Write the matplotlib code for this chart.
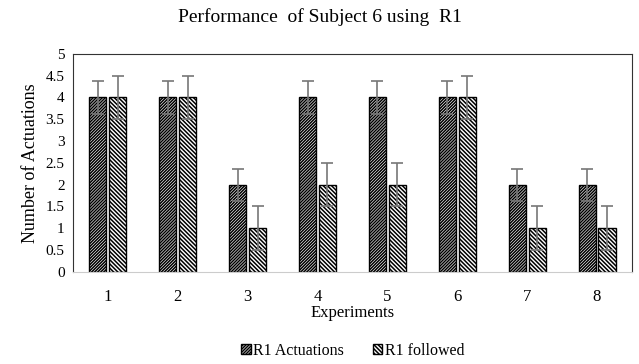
import numpy as np
import matplotlib.pyplot as plt

plt.rcParams['font.family'] = ['Liberation Serif', 'DejaVu Serif']
plt.rcParams['hatch.linewidth'] = 1.1

experiments = ['1', '2', '3', '4', '5', '6', '7', '8']
r1_actuations = [4, 4, 2, 4, 4, 4, 2, 2]
r1_followed = [4, 4, 1, 2, 2, 4, 1, 1]
err_actuations = [0.37] * 8
err_followed = [0.5] * 8

fig = plt.figure(figsize=[6.39, 3.64], dpi=100)
ax = fig.add_axes([0.114, 0.253, 0.875, 0.599])

x = np.arange(len(experiments))
w = 0.245
errkw = dict(ecolor='#777777', elinewidth=1.2, capsize=4, capthick=1.2)
ax.bar(x - w / 2 - 0.02, r1_actuations, w, color='white', edgecolor='black',
       hatch='/' * 11, linewidth=1.0, yerr=err_actuations, error_kw=errkw,
       label='R1 Actuations')
ax.bar(x + w / 2 + 0.02, r1_followed, w, color='white', edgecolor='black',
       hatch='\\' * 8, linewidth=1.0, yerr=err_followed, error_kw=errkw,
       label='R1 followed')

ax.set_xlim(-0.5, len(experiments) - 0.5)
ax.set_ylim(0, 5)
ax.set_yticks(np.arange(0, 5.01, 0.5))
ax.set_yticklabels(['0', '0.5', '1', '1.5', '2', '2.5', '3', '3.5', '4', '4.5', '5'])
ax.set_xticks(x)
ax.set_xticklabels(experiments)
ax.tick_params(axis='y', length=0, labelsize=11, pad=6)
ax.tick_params(axis='x', length=0, labelsize=12, pad=12)
for s in ['top', 'left', 'right']:
    ax.spines[s].set_color('#333333')
ax.spines['bottom'].set_color('#cccccc')

ax.set_xlabel('Experiments', fontsize=12, labelpad=0)
ax.set_ylabel('Number of Actuations', fontsize=13, labelpad=5)
fig.suptitle('Performance  of Subject 6 using  R1', fontsize=14, y=0.978)

fig.legend(loc='lower center', bbox_to_anchor=(0.552, -0.025), ncol=2,
           frameon=False, fontsize=11.5, handlelength=0.6, handleheight=0.6,
           handletextpad=0.15, columnspacing=1.8)

fig.savefig('out.png', dpi=100)
